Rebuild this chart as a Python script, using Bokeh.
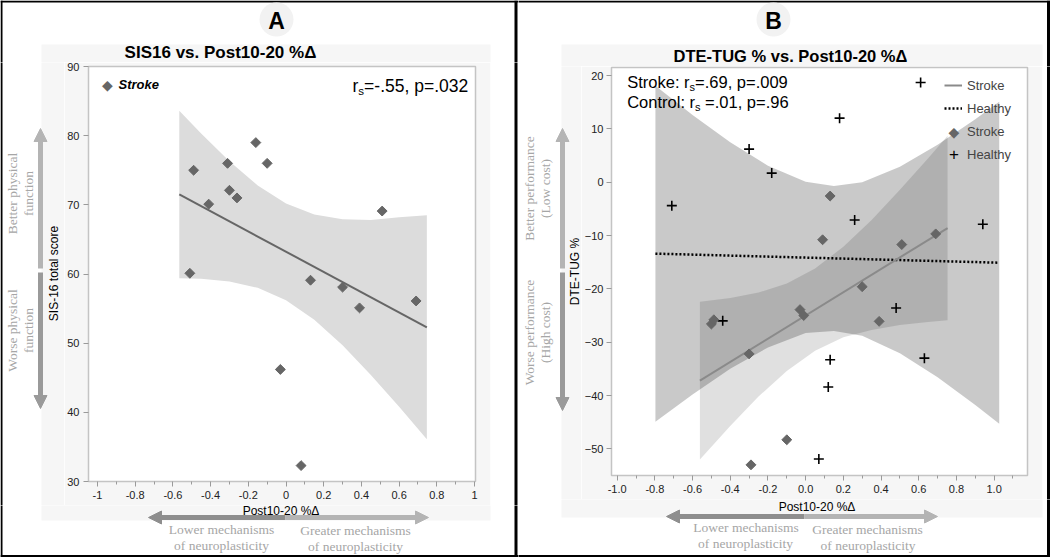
import numpy as np
from bokeh.plotting import figure
from bokeh.layouts import row, column
from bokeh.models import FixedTicker, NumeralTickFormatter, Label, Legend, LegendItem, Range1d
from bokeh.core.properties import value
from bokeh.embed import file_html
from bokeh.resources import INLINE

# ---------------- Panel A data ----------------
a_x = [-0.49, -0.31, -0.16, -0.10, -0.30, -0.26, -0.41, -0.51, 0.13, 0.30, 0.39, 0.51, 0.69, -0.03, 0.08]
a_y = [75.0, 76.0, 79.0, 76.0, 72.1, 71.0, 70.1, 60.1, 59.1, 58.1, 55.1, 69.1, 56.1, 46.2, 32.3]
a_fit_x = [-0.566, 0.747]
a_fit_y = [71.5, 52.3]
a_band_x = [-0.566, -0.45, -0.3, -0.15, 0.0, 0.15, 0.3, 0.45, 0.6, 0.747]
a_band_up = [83.6, 80.3, 76.3, 72.8, 70.2, 68.6, 67.9, 67.8, 68.2, 68.5]
a_band_lo = [59.4, 59.3, 58.9, 58.0, 56.2, 53.4, 49.7, 45.4, 40.8, 36.1]
a_xticks = [-1.0, -0.8, -0.6, -0.4, -0.2, 0.0, 0.2, 0.4, 0.6, 0.8, 1.0]
a_xminor = [-0.9, -0.7, -0.5, -0.3, -0.1, 0.1, 0.3, 0.5, 0.7, 0.9]
a_yticks = [30, 40, 50, 60, 70, 80, 90]

# ---------------- Panel B data ----------------
b_stroke_x = [0.13, 0.09, 0.51, 0.69, 0.30, -0.03, -0.01, 0.39, -0.50, -0.487, -0.30, -0.10, -0.29]
b_stroke_y = [-2.6, -10.8, -11.7, -9.7, -19.6, -23.9, -25.0, -26.1, -26.6, -25.8, -32.2, -48.3, -53.0]
b_healthy_x = [0.61, 0.18, -0.30, -0.18, -0.71, 0.26, 0.94, -0.44, 0.48, 0.63, 0.13, 0.12, 0.07]
b_healthy_y = [18.7, 12.0, 6.2, 1.7, -4.4, -7.1, -7.9, -26.0, -23.6, -33.0, -33.3, -38.4, -51.9]
b_stroke_fit_x = [-0.561, 0.753]
b_stroke_fit_y = [-37.2, -8.6]
b_healthy_fit_x = [-0.797, 1.027]
b_healthy_fit_y = [-13.4, -15.1]
b_hband_x = [-0.797, -0.6, -0.4, -0.2, 0.0, 0.15, 0.3, 0.5, 0.7, 0.9, 1.027]
b_hband_up = [18.1, 12.6, 7.5, 3.1, 0.1, -0.7, 0.0, 2.9, 7.0, 11.8, 15.1]
b_hband_lo = [-44.9, -39.8, -35.0, -31.0, -28.3, -27.9, -28.8, -32.1, -36.6, -41.8, -45.3]
b_sband_x = [-0.561, -0.4, -0.25, -0.1, 0.05, 0.2, 0.35, 0.5, 0.65, 0.753]
b_sband_up = [-22.4, -21.7, -20.7, -19.0, -16.2, -12.1, -7.1, -1.4, 4.5, 8.7]
b_sband_lo = [-52.0, -45.7, -40.2, -35.4, -31.6, -29.1, -27.7, -26.8, -26.2, -25.9]
b_xticks = [-1.0, -0.8, -0.6, -0.4, -0.2, 0.0, 0.2, 0.4, 0.6, 0.8, 1.0]
b_xminor = [-0.9, -0.7, -0.5, -0.3, -0.1, 0.1, 0.3, 0.5, 0.7, 0.9, 1.1]
b_yticks = [-50, -40, -30, -20, -10, 0, 10, 20]

SANS = "Liberation Sans"
SERIF = "Liberation Serif"
SYM = "DejaVu Sans"
BG = "#f6f6f6"
GT = "#a6a6a6"
ARROW_LIGHT = "#b4b4b4"
ARROW_DARK = "#9a9a9a"
ARROW_DARK_H = "#8e8e8e"


# ---------- decoration strips: every strip's frame is its whole canvas, page pixel units ----------
def strip(x0, x1, y0, y1):
    p = figure(width=x1 - x0, height=y1 - y0, x_range=Range1d(x0, x1), y_range=Range1d(-y1, -y0),
               output_backend="svg", toolbar_location=None, title=None,
               x_axis_location=None, y_axis_location=None,
               min_border=0, min_border_left=0, min_border_right=0,
               min_border_top=0, min_border_bottom=0)
    p.frame_align = False
    p.outline_line_color = None
    p.grid.visible = False
    p.background_fill_color = "white"
    p.border_fill_color = "white"
    # grey panels behind each chart
    p.quad(left=[41, 561], right=[490, 1042], top=[-44, -44], bottom=[-520, -517],
           fill_color=BG, line_color=None)
    # outer frame and divider
    p.quad(left=[0, 0, 0, 1046.5, 514], right=[1050, 1050, 2, 1050, 517],
           top=[0, -554.5, 0, 0, 0], bottom=[-2, -557, -557, -557, -557],
           fill_color="black", line_color=None)
    return p


def txt(p, x, y, s, size, font=SANS, style="normal", color="black", align="center", angle=0.0):
    p.text(x=[x], y=[-y], text=[s], angle=angle, text_font=value(font),
           text_font_size=value(f"{size}px"), text_font_style=value(style),
           text_color=color, text_align=value(align), text_baseline=value("middle"))


def arrow(p, x0, y0, x1, y1, color, w=5, hl=13, hw=13):
    dx, dy = x1 - x0, y1 - y0
    n = (dx * dx + dy * dy) ** 0.5
    ux, uy = dx / n, dy / n
    bx, by = x1 - ux * hl, y1 - uy * hl
    p.segment(x0=[x0], y0=[-y0], x1=[bx], y1=[-by], line_width=w, line_color=color)
    qx, qy = -uy, ux
    p.patch([x1, bx + qx * hw / 2, bx - qx * hw / 2], [-y1, -(by + qy * hw / 2), -(by - qy * hw / 2)],
            fill_color=color, line_color=color, line_width=1)


def letter(p, cx, cy, s):
    p.circle(x=[cx], y=[-cy], radius=17, fill_color="#f2f2f2", line_color=None)
    txt(p, cx, cy + 1, s, 23, style="bold")


# ---------- chart helpers ----------
def style_axes(p, xfmt, ystand):
    p.frame_align = False
    p.xgrid.visible = False
    p.ygrid.visible = False
    p.outline_line_color = "#c4c4c4"
    p.outline_line_width = 1.5
    p.background_fill_color = "white"
    p.border_fill_color = BG
    for ax in p.axis:
        ax.axis_line_color = None
        ax.major_tick_line_color = "#9a9a9a"
        ax.major_tick_out = 5
        ax.major_tick_in = 0
        ax.minor_tick_line_color = "#9a9a9a"
        ax.minor_tick_out = 3
        ax.minor_tick_in = 0
        ax.major_label_text_font = SANS
        ax.major_label_text_font_size = "11px"
        ax.major_label_text_color = "#222222"
    p.xaxis.major_label_standoff = 4
    p.yaxis.major_label_standoff = ystand
    p.xaxis.formatter = NumeralTickFormatter(format=xfmt)


def label(p, L, B, x, y, text, size, font=SANS, style="normal", color="black", align="left"):
    p.add_layout(Label(x=x - L, y=B - y, x_units="screen", y_units="screen", text=text,
                       text_font=font, text_font_size=f"{size}px", text_font_style=style,
                       text_color=color, text_align=align, text_baseline="middle"))


# ======================= Panel A chart =======================
LA, BA = 86, 481  # frame left / bottom (page px)
pa = figure(width=426, height=443, title=None, x_range=Range1d(-1.0475, 1.005),
            y_range=Range1d(30, 90), output_backend="svg", toolbar_location=None,
            min_border_left=22, min_border_right=15, min_border_top=4, min_border_bottom=24)
style_axes(pa, "0.[0]", 4)
pa.xaxis.ticker = FixedTicker(ticks=a_xticks, minor_ticks=a_xminor)
pa.yaxis.ticker = FixedTicker(ticks=a_yticks)

pa.varea(x=a_band_x, y1=a_band_lo, y2=a_band_up, fill_color="#dcdcdc")
pa.line(a_fit_x, a_fit_y, line_color="#666666", line_width=2)
pa.scatter(a_x, a_y, marker="square", angle=np.pi / 4, size=7,
           fill_color="#666666", line_color="#666666")

label(pa, LA, BA, 105, 84, "\u25C6", 14, font=SYM, color="#666666", align="center")
label(pa, LA, BA, 116, 84, "Stroke", 13, style="bold italic")
label(pa, LA, BA, 350, 85, "r", 17.5)
label(pa, LA, BA, 355.8, 90, "s", 11.5)
label(pa, LA, BA, 361.6, 85, "=-.55, p=.032", 17.5)

# ======================= Panel B chart =======================
LB, BB = 606, 475
pb = figure(width=461, height=433, title=None, x_range=Range1d(-1.03, 1.177),
            y_range=Range1d(-55.0, 21.5), output_backend="svg", toolbar_location=None,
            min_border_left=25, min_border_right=15, min_border_top=1, min_border_bottom=24)
style_axes(pb, "0.0", 3)
pb.xaxis.ticker = FixedTicker(ticks=b_xticks, minor_ticks=b_xminor)
pb.yaxis.ticker = FixedTicker(ticks=b_yticks)

pb.varea(x=b_hband_x, y1=b_hband_lo, y2=b_hband_up, fill_color="black", fill_alpha=0.21)
pb.varea(x=b_sband_x, y1=b_sband_lo, y2=b_sband_up, fill_color="black", fill_alpha=0.12)
r_hline = pb.line(b_healthy_fit_x, b_healthy_fit_y, line_color="black", line_width=2.5,
                  line_dash="2 2")
r_sline = pb.line(b_stroke_fit_x, b_stroke_fit_y, line_color="#8a8a8a", line_width=2)
r_hpts = pb.scatter(b_healthy_x, b_healthy_y, marker="cross", size=10, line_color="black",
                    line_width=1.6)
r_spts = pb.scatter(b_stroke_x, b_stroke_y, marker="square", angle=np.pi / 4, size=7,
                    fill_color="#666666", line_color="#666666")
r_sghost = pb.scatter(b_stroke_x, b_stroke_y, marker="square", size=7, fill_alpha=0, line_alpha=0)
r_hghost = pb.scatter(b_healthy_x, b_healthy_y, marker="cross", size=10, line_alpha=0)

leg_b = Legend(items=[LegendItem(label="Stroke", renderers=[r_sline]),
                      LegendItem(label="Healthy", renderers=[r_hline]),
                      LegendItem(label="Stroke", renderers=[r_sghost]),
                      LegendItem(label="Healthy", renderers=[r_hghost])],
               location=(333, 311), glyph_width=18, glyph_height=18, label_height=20,
               spacing=3, padding=0, margin=0, label_standoff=5, background_fill_alpha=0,
               border_line_color=None, label_text_font=SANS, label_text_font_size="13px")
pb.add_layout(leg_b)
label(pb, LB, BB, 948.5, 131, "\u25C6", 14, font=SYM, color="#666666", align="center")
label(pb, LB, BB, 948.5, 153.5, "+", 17, color="black", align="center")

label(pb, LB, BB, 621.7, 81.5, "Stroke: r", 16.5)
label(pb, LB, BB, 684.1, 86.5, "s", 11)
label(pb, LB, BB, 689.6, 81.5, "=.69, p=.009", 16.5)
label(pb, LB, BB, 621.7, 101.5, "Control: r", 16.5)
label(pb, LB, BB, 689.6, 106.5, "s", 11)
label(pb, LB, BB, 699.6, 101.5, "=.01, p=.96", 16.5)

# ======================= decoration strips, panel A =======================
topA = strip(0, 518, 0, 62)
letter(topA, 276, 19, "A")
txt(topA, 220, 52, "SIS16 vs. Post10-20 %\u0394", 17, style="bold")

leftA = strip(0, 64, 62, 505)
arrow(leftA, 40, 268, 40, 128, ARROW_LIGHT)
arrow(leftA, 40, 272, 40, 408, ARROW_DARK)
txt(leftA, 12, 193, "Better physical", 13.5, font=SERIF, color=GT, angle=np.pi / 2)
txt(leftA, 28, 193, "function", 13.5, font=SERIF, color=GT, angle=np.pi / 2)
txt(leftA, 12, 330, "Worse physical", 13.5, font=SERIF, color=GT, angle=np.pi / 2)
txt(leftA, 28, 330, "function", 13.5, font=SERIF, color=GT, angle=np.pi / 2)
txt(leftA, 53, 273, "SIS-16 total score", 12, angle=np.pi / 2)

rightA = strip(490, 518, 62, 505)

botA = strip(0, 518, 505, 557)
txt(botA, 280.5, 510, "Post10-20 %\u0394", 12)
arrow(botA, 285, 517, 148, 517, ARROW_DARK_H)
arrow(botA, 285, 517, 428, 517, ARROW_LIGHT)
txt(botA, 221, 529, "Lower mechanisms", 13.5, font=SERIF, color=GT)
txt(botA, 221, 545, "of neuroplasticity", 13.5, font=SERIF, color=GT)
txt(botA, 355, 530, "Greater mechanisms", 13.5, font=SERIF, color=GT)
txt(botA, 355, 546, "of neuroplasticity", 13.5, font=SERIF, color=GT)

# ======================= decoration strips, panel B =======================
topB = strip(518, 1050, 0, 66)
letter(topB, 773, 19, "B")
txt(topB, 790, 55, "DTE-TUG % vs. Post10-20 %\u0394", 16.5, style="bold")

leftB = strip(518, 581, 66, 499)
arrow(leftB, 562, 268, 562, 128, ARROW_LIGHT)
arrow(leftB, 562, 272, 562, 410, ARROW_DARK)
txt(leftB, 529, 188, "Better performance", 13.5, font=SERIF, color=GT, angle=np.pi / 2)
txt(leftB, 545, 188, "(Low cost)", 13.5, font=SERIF, color=GT, angle=np.pi / 2)
txt(leftB, 529, 332, "Worse performance", 13.5, font=SERIF, color=GT, angle=np.pi / 2)
txt(leftB, 545, 332, "(High cost)", 13.5, font=SERIF, color=GT, angle=np.pi / 2)
txt(leftB, 574, 271, "DTE-TUG %", 12, angle=np.pi / 2)

rightB = strip(1042, 1050, 66, 499)

botB = strip(518, 1050, 499, 557)
txt(botB, 816.5, 506, "Post10-20 %\u0394", 12)
arrow(botB, 804, 516, 666, 516, ARROW_DARK_H)
arrow(botB, 804, 516, 937, 516, ARROW_LIGHT)
txt(botB, 745.5, 527, "Lower mechanisms", 13.5, font=SERIF, color=GT)
txt(botB, 745, 543, "of neuroplasticity", 13.5, font=SERIF, color=GT)
txt(botB, 867, 529, "Greater mechanisms", 13.5, font=SERIF, color=GT)
txt(botB, 867.5, 545, "of neuroplasticity", 13.5, font=SERIF, color=GT)

colA = column(topA, row(leftA, pa, rightA), botA)
colB = column(topB, row(leftB, pb, rightB), botB)
layout = row(colA, colB)
open("out.html", "w").write(file_html(layout, INLINE))
